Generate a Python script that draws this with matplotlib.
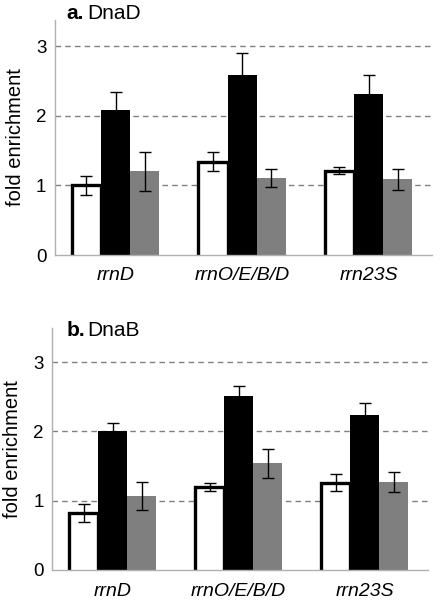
import matplotlib.pyplot as plt
import numpy as np

plt.rcParams["font.family"] = ["Liberation Sans", "DejaVu Sans"]

categories = ["rrnD", "rrnO/E/B/D", "rrn23S"]

# painel a (DnaD): barra branca, preta, cinza
dnad_white = [1.00, 1.34, 1.21]
dnad_white_err = [0.14, 0.14, 0.05]
dnad_black = [2.08, 2.58, 2.32]
dnad_black_err = [0.26, 0.32, 0.27]
dnad_gray = [1.20, 1.11, 1.09]
dnad_gray_err = [0.28, 0.13, 0.15]

# painel b (DnaB)
dnab_white = [0.83, 1.20, 1.26]
dnab_white_err = [0.13, 0.06, 0.12]
dnab_black = [2.01, 2.51, 2.24]
dnab_black_err = [0.11, 0.14, 0.17]
dnab_gray = [1.07, 1.54, 1.27]
dnab_gray_err = [0.20, 0.21, 0.14]

y_ticks = [0, 1, 2, 3]


def draw_panel(ax, white, werr, black, berr, gray, gerr, ytop):
    x = np.arange(len(categories))
    w = 0.23
    ekw = dict(ecolor="black", elinewidth=1.0, capsize=4, capthick=1.0, zorder=6)

    # barra branca: contorno so nos lados e no topo
    ax.bar(x - w, white, w, color="white", linewidth=0, zorder=3)
    for xi, h in zip(x - w, white):
        ax.plot([xi - w / 2, xi - w / 2, xi + w / 2, xi + w / 2], [0, h, h, 0],
                color="black", linewidth=2.4, solid_joinstyle="miter", zorder=4)
    ax.errorbar(x - w, white, yerr=werr, fmt="none", **ekw)

    ax.bar(x, black, w, color="black", yerr=berr, error_kw=ekw, zorder=3)
    ax.bar(x + w, gray, w, color="#7f7f7f", yerr=gerr, error_kw=ekw, zorder=3)

    ax.set_xlim(-0.48, 2.5)
    ax.set_ylim(0, ytop)
    ax.set_yticks(y_ticks)
    ax.set_xticks(x)
    ax.set_xticklabels(categories, fontstyle="italic", fontsize=14)
    ax.tick_params(axis="both", length=0)
    ax.tick_params(axis="y", pad=6, labelsize=13.5)
    ax.tick_params(axis="x", pad=9)
    for yv in [1, 2, 3]:
        ax.axhline(yv, color="#808080", linestyle=(0, (4, 3)), linewidth=1.0, zorder=1)
    for s in ["top", "right"]:
        ax.spines[s].set_visible(False)
    for s in ["left", "bottom"]:
        ax.spines[s].set_color("#b0b0b0")
        ax.spines[s].set_linewidth(1.0)
        ax.spines[s].set_zorder(5)
    ax.set_ylabel("fold enrichment", fontsize=14.5, labelpad=8)


fig = plt.figure(figsize=(4.42, 6.0), dpi=100)

ax1 = fig.add_axes([0.124, 0.575, 0.853, 0.392])
draw_panel(ax1, dnad_white, dnad_white_err, dnad_black, dnad_black_err,
           dnad_gray, dnad_gray_err, 3.38)
fig.text(0.150, 0.977, "a.", fontsize=15, fontweight="bold", va="center")
fig.text(0.198, 0.977, "DnaD", fontsize=15, va="center")

ax2 = fig.add_axes([0.118, 0.05, 0.85, 0.404])
draw_panel(ax2, dnab_white, dnab_white_err, dnab_black, dnab_black_err,
           dnab_gray, dnab_gray_err, 3.5)
fig.text(0.150, 0.450, "b.", fontsize=15, fontweight="bold", va="center")
fig.text(0.198, 0.450, "DnaB", fontsize=15, va="center")

plt.savefig("out.png", dpi=100)
plt.close()
